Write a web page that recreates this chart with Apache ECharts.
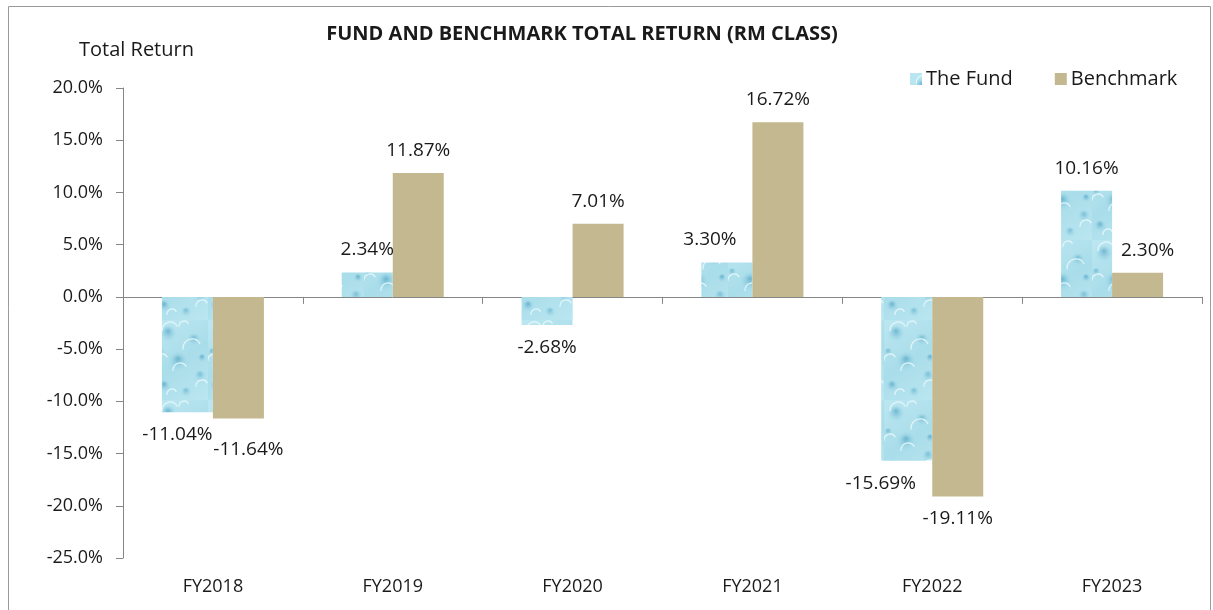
<!DOCTYPE html>
<html>
<head>
<meta charset="utf-8">
<script src="https://cdn.jsdelivr.net/npm/echarts@6/dist/echarts.min.js"></script>
<style>
html,body{margin:0;padding:0;background:#fff;}
#chart{width:1213px;height:610px;}
</style>
</head>
<body>
<div id="chart"></div>
<script>
const categories = ['FY2018','FY2019','FY2020','FY2021','FY2022','FY2023'];
const fundValues = [-11.04, 2.34, -2.68, 3.30, -15.69, 10.16];
const benchmarkValues = [-11.64, 11.87, 7.01, 16.72, -19.11, 2.30];
const seriesNames = ['The Fund', 'Benchmark'];
const yTicks = {min: -25, max: 20, step: 5};

// label offsets (styling only)
const fundLabelOffsets = [[-10,0],[0,0],[0,0],[-17,0],[-26,0],[0,0]];
const benchLabelOffsets = [[10,9],[0,0],[0,0],[0,0],[0,0],[10,0]];

function makeTexture(){
  const c = document.createElement('canvas');
  c.width = 52; c.height = 80;
  const g = c.getContext('2d');
  const grd = g.createLinearGradient(0,0,52,80);
  grd.addColorStop(0,'#BCE7F1');
  grd.addColorStop(0.5,'#A9DDEA');
  grd.addColorStop(1,'#BAE6F0');
  g.fillStyle = grd; g.fillRect(0,0,52,80);
  const blobs = [[12,14,10],[38,20,8],[22,42,11],[44,56,7],[8,66,7],[30,72,6],[46,38,5],[4,32,5]];
  blobs.forEach((b,i)=>{
    const rg = g.createRadialGradient(b[0],b[1]-b[2]*0.3,1,b[0],b[1],b[2]);
    rg.addColorStop(0,i%2?'rgba(100,178,206,0.6)':'rgba(88,168,200,0.65)');
    rg.addColorStop(1,'rgba(180,228,240,0)');
    g.fillStyle = rg;
    g.beginPath(); g.arc(b[0],b[1],b[2],0,Math.PI*2); g.fill();
  });
  g.strokeStyle = 'rgba(236,250,253,0.85)'; g.lineWidth = 1.2;
  [[14,10,8],[36,28,9],[24,50,7],[46,66,6],[6,40,6],[28,6,5],[16,74,5]].forEach(a=>{
    g.beginPath(); g.arc(a[0],a[1],a[2],Math.PI*0.95,Math.PI*1.85); g.stroke();
  });
  return c;
}
const tex = makeTexture();
const fundColor = {image: tex, repeat: 'repeat'};
const benchColor = '#C4B891';

const chart = echarts.init(document.getElementById('chart'), null, {renderer:'canvas'});
const font = '"Open Sans", sans-serif';
const txt = '#1a1a1a';

function mkData(vals, offs){
  return vals.map((v,i)=>({value:v, label:{position: v>=0?'top':'bottom', offset: offs[i]}}));
}

chart.setOption({
  backgroundColor:'#fff',
  animation:false,
  title:{
    text:'FUND AND BENCHMARK TOTAL RETURN (RM CLASS)',
    left:577, top:19, textAlign:'center',
    textStyle:{fontFamily:font, fontSize:20, fontWeight:'bold', color:txt}
  },
  graphic:[
    {type:'rect', left:6, top:4, shape:{width:1202, height:610}, style:{fill:'none', stroke:'#9a9a9a', lineWidth:1}, silent:true},
    {type:'text', left:79, top:40, style:{text:'Total Return', font:'20px '+font, fill:txt}}
  ],
  legend:{
    data:seriesNames,
    left:905, top:64,
    icon:'rect', itemWidth:12, itemHeight:12, itemGap:42,
    textStyle:{fontFamily:font, fontSize:20, color:txt, padding:[0,0,0,-1]}
  },
  grid:{left:123, right:11, top:88, bottom:52, containLabel:false},
  xAxis:[
    {type:'category', data:categories,
     axisLine:{onZero:true, lineStyle:{color:'#868686', width:1}},
     axisTick:{show:true, length:7, lineStyle:{color:'#868686'}},
     axisLabel:{show:false}},
    {type:'category', data:categories, position:'bottom',
     axisLine:{show:false}, axisTick:{show:false},
     axisLabel:{show:true, margin:20, fontFamily:font, fontSize:18, color:txt}}
  ],
  yAxis:{
    type:'value', min:yTicks.min, max:yTicks.max, interval:yTicks.step,
    axisLine:{show:true, lineStyle:{color:'#868686'}},
    axisTick:{show:true, length:7, lineStyle:{color:'#868686'}},
    splitLine:{show:false},
    axisLabel:{margin:20, fontFamily:font, fontSize:18, color:txt, formatter:v=>v.toFixed(1)+'%'}
  },
  series:[
    {name:seriesNames[0], type:'bar', xAxisIndex:0, barWidth:51, barGap:'0%',
     itemStyle:{color:fundColor},
     label:{show:true, distance:13, fontFamily:font, fontSize:19, color:txt, formatter:p=>p.value.toFixed(2)+'%'},
     data:mkData(fundValues, fundLabelOffsets)},
    {name:seriesNames[1], type:'bar', xAxisIndex:0, barWidth:51, barGap:'0%',
     itemStyle:{color:benchColor},
     label:{show:true, distance:13, fontFamily:font, fontSize:19, color:txt, formatter:p=>p.value.toFixed(2)+'%'},
     data:mkData(benchmarkValues, benchLabelOffsets)}
  ]
});
</script>
</body>
</html>
